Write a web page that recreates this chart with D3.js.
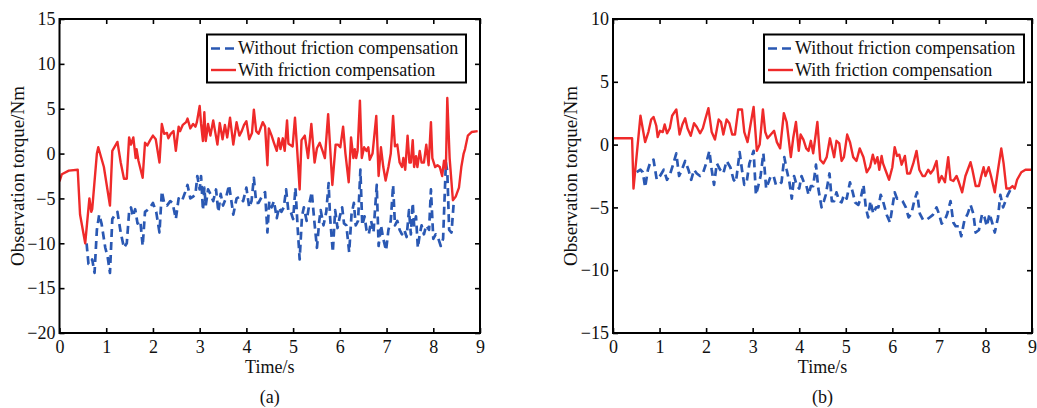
<!DOCTYPE html>
<html>
<head>
<meta charset="utf-8">
<script src="https://cdn.jsdelivr.net/npm/d3@7"></script>
<style>
  html, body { margin: 0; padding: 0; background: #fff; }
  svg { display: block; }
  text { font-family: "Liberation Serif", "Times New Roman", serif; fill: #111; }
</style>
</head>
<body>
<svg id="chart" width="1037" height="408"></svg>
<script>
// ---- data: observed torque (Nm) vs time (s), as [time, torque] pairs ----

// panel (a)
const withCompA = [
  [0,-3.1],[0.05,-2.3],[0.2,-1.9],[0.39,-1.8],[0.44,-6.8],[0.55,-10],[0.64,-5],[0.68,-6.5],[0.7,-6.2],
  [0.8,0],[0.83,0.7],[0.95,-1.5],[1.08,-5.8],[1.13,0.3],[1.24,1.3],[1.31,-1],[1.38,-2.8],[1.44,-2.8],
  [1.49,1.8],[1.53,1.0],[1.58,1.8],[1.63,-0.5],[1.65,0.5],[1.69,-0.8],[1.78,-2.7],[1.83,1.2],[1.88,0.9],
  [1.94,1.5],[2.0,2.0],[2.06,1.6],[2.14,-1.0],[2.19,3.3],[2.24,2.2],[2.3,2.3],[2.33,1.7],[2.38,2.2],
  [2.44,2.5],[2.49,0.3],[2.55,3.0],[2.58,2.5],[2.64,3.2],[2.71,3.5],[2.74,3.9],[2.8,2.8],[2.86,3.3],
  [2.91,3.0],[2.94,3.5],[3.0,5.3],[3.03,3.3],[3.07,1.4],[3.1,4.6],[3.13,1.4],[3.18,3.3],[3.23,2.0],
  [3.29,3.7],[3.38,1.0],[3.43,3.4],[3.49,1.6],[3.54,3.2],[3.59,1.8],[3.65,4.0],[3.72,1.0],[3.79,3.5],
  [3.85,2.0],[3.9,2.5],[3.95,3.2],[4.0,3.6],[4.06,1.6],[4.12,2.3],[4.16,4.9],[4.21,2.5],[4.26,2.2],
  [4.35,3.5],[4.4,3.0],[4.45,-1.3],[4.48,2.8],[4.54,2.0],[4.59,1.2],[4.65,0.3],[4.69,1.7],[4.73,0.5],
  [4.78,1.7],[4.82,0.3],[4.87,3.7],[4.9,1.1],[4.99,0.8],[5.04,4.0],[5.08,1.0],[5.14,-4.0],[5.18,1.5],
  [5.25,2.0],[5.32,-0.5],[5.39,3.3],[5.46,-1.0],[5.51,0.6],[5.57,1.2],[5.63,0.3],[5.68,-0.5],[5.75,4.4],
  [5.84,-3.5],[5.91,1.0],[5.96,1.0],[6.01,0.7],[6.07,3.0],[6.12,0.0],[6.19,-3.2],[6.24,1.8],[6.29,-0.5],
  [6.32,0.5],[6.35,-0.5],[6.38,0.3],[6.43,5.9],[6.47,-0.5],[6.52,0.7],[6.57,0.3],[6.61,0.7],[6.64,-0.7],
  [6.7,0.0],[6.78,4.2],[6.83,-2.5],[6.88,0.7],[6.93,-1.5],[6.98,-3.0],[7.04,-1.5],[7.09,0.0],[7.14,4.2],
  [7.18,0.8],[7.23,1.0],[7.28,-1.0],[7.33,-1.5],[7.36,-0.5],[7.4,-1.8],[7.45,2.0],[7.49,-1.0],[7.52,-1.0],
  [7.56,1.5],[7.59,-1.5],[7.63,-0.3],[7.66,-1.5],[7.71,0.3],[7.75,-1.0],[7.8,-1.0],[7.85,1.0],[7.9,-1.3],
  [7.95,3.5],[7.98,-0.5],[8.04,-1.5],[8.09,-1.3],[8.14,-1.5],[8.19,-2.5],[8.23,-0.8],[8.27,-1.7],[8.3,6.2],
  [8.35,-0.5],[8.42,-5.2],[8.48,-4.8],[8.55,-3.8],[8.6,-1.5],[8.65,0],[8.68,0.5],[8.74,2.0],[8.82,2.4],[8.95,2.5]
];
const withoutCompA = [
  [0.58,-10],[0.62,-12.3],[0.66,-12.3],[0.7,-11.8],[0.75,-13.3],[0.8,-8.5],[0.85,-6.8],[0.9,-7.8],[0.98,-10.5],
  [1.03,-11.5],[1.08,-13.3],[1.13,-7.3],[1.19,-6.8],[1.24,-6.5],[1.31,-8.8],[1.38,-10.5],[1.44,-10.0],[1.49,-6.5],
  [1.53,-6.0],[1.57,-7.0],[1.62,-6.2],[1.67,-7.8],[1.73,-7.5],[1.78,-10.3],[1.83,-6.5],[1.88,-6.3],[1.94,-6.0],
  [2.0,-5.5],[2.07,-6.5],[2.14,-8.8],[2.19,-4.2],[2.24,-5.5],[2.3,-5.8],[2.37,-5.3],[2.42,-5.5],[2.49,-7.3],
  [2.55,-5.0],[2.62,-5.3],[2.69,-4.3],[2.74,-3.5],[2.8,-5.0],[2.86,-4.8],[2.91,-4.5],[2.95,-2.5],[3.0,-4.0],
  [3.03,-2.5],[3.07,-6.3],[3.1,-3.8],[3.13,-5.8],[3.18,-4.0],[3.23,-4.5],[3.29,-5.3],[3.35,-4.0],[3.4,-6.5],
  [3.45,-4.5],[3.5,-5.8],[3.56,-5.0],[3.63,-3.5],[3.72,-6.8],[3.79,-5.0],[3.86,-4.8],[3.93,-5.3],[4.0,-3.8],
  [4.06,-6.0],[4.11,-5.3],[4.16,-2.7],[4.21,-5.5],[4.26,-5.5],[4.33,-4.8],[4.4,-4.3],[4.45,-8.8],[4.49,-5.3],
  [4.54,-6.0],[4.59,-5.3],[4.65,-7.2],[4.7,-6.0],[4.75,-6.5],[4.8,-6.0],[4.85,-4.0],[4.9,-6.5],[4.95,-6.5],
  [5.0,-7.3],[5.05,-3.8],[5.1,-8.5],[5.14,-11.8],[5.19,-7.0],[5.23,-6.0],[5.29,-7.5],[5.35,-5.5],[5.4,-4.3],
  [5.45,-7.3],[5.51,-10.5],[5.56,-7.5],[5.59,-6.3],[5.65,-8.0],[5.71,-6.5],[5.76,-3.3],[5.79,-7.0],[5.85,-11.0],
  [5.9,-6.3],[5.95,-8.3],[6.0,-7.0],[6.05,-6.0],[6.09,-7.8],[6.14,-8.0],[6.2,-11.0],[6.25,-6.8],[6.3,-5.5],
  [6.34,-8.0],[6.39,-7.5],[6.44,-1.8],[6.48,-8.0],[6.53,-7.0],[6.57,-8.5],[6.62,-9.0],[6.67,-7.5],[6.72,-8.8],
  [6.79,-3.5],[6.83,-10.3],[6.88,-8.0],[6.93,-9.5],[6.99,-10.8],[7.04,-8.5],[7.09,-7.5],[7.14,-3.5],[7.18,-8.0],
  [7.23,-7.5],[7.28,-8.5],[7.33,-9.0],[7.38,-8.5],[7.43,-9.3],[7.48,-6.3],[7.52,-9.0],[7.56,-5.5],[7.59,-8.0],
  [7.63,-7.0],[7.67,-10.5],[7.71,-9.0],[7.75,-8.0],[7.8,-9.0],[7.85,-8.0],[7.91,-8.5],[7.95,-4.0],[8.0,-9.5],
  [8.05,-9.0],[8.11,-9.5],[8.16,-10.3],[8.21,-9.5],[8.27,-1.0],[8.3,-2.0],[8.34,-8.5],[8.39,-8.8],[8.44,-5.3]
];

// panel (b)
const withCompB = [
  [0,0.5],[0.41,0.5],[0.44,-3.5],[0.59,2.3],[0.69,0.2],[0.76,1.0],[0.82,2.0],[0.87,2.2],[0.93,1.5],[0.96,0.6],
  [1.01,1.1],[1.07,1.0],[1.11,1.6],[1.16,0.9],[1.22,1.3],[1.27,2.3],[1.36,2.8],[1.43,0.8],[1.49,1.6],[1.55,2.1],
  [1.6,1.3],[1.67,0.7],[1.74,1.7],[1.8,1.4],[1.87,0.9],[1.93,1.3],[1.98,2.0],[2.05,2.9],[2.12,1.0],[2.19,0.4],
  [2.27,2.0],[2.32,1.8],[2.37,0.8],[2.44,2.0],[2.5,1.7],[2.56,0.8],[2.62,0.8],[2.69,2.8],[2.77,2.8],[2.82,1.0],
  [2.89,0.2],[2.95,1.5],[3.02,3.0],[3.09,-0.5],[3.15,0.0],[3.22,2.8],[3.27,1.0],[3.32,0.5],[3.39,0.8],[3.46,1.1],
  [3.52,0.2],[3.59,-0.3],[3.67,2.5],[3.73,1.8],[3.82,-1.0],[3.87,0.5],[3.93,1.8],[3.99,-0.5],[4.03,0.8],[4.09,0.4],
  [4.15,-0.3],[4.2,-0.5],[4.25,0.3],[4.3,-0.7],[4.39,1.8],[4.45,-1.2],[4.52,-1.5],[4.59,-1.0],[4.66,0.5],[4.75,-1.0],
  [4.8,0.3],[4.86,0.1],[4.91,-1.3],[4.96,-1.0],[5.03,0.8],[5.09,0.2],[5.16,-1.0],[5.23,-1.3],[5.3,-0.3],[5.38,-1.0],
  [5.45,-2.2],[5.52,-1.8],[5.58,-0.8],[5.63,-1.5],[5.68,-1.0],[5.72,-2.0],[5.77,-0.9],[5.8,-1.5],[5.85,-2.0],[5.93,-2.8],
  [6.0,-1.8],[6.05,-0.2],[6.1,-0.9],[6.15,-0.8],[6.2,-1.6],[6.27,-0.9],[6.32,-2.3],[6.38,-2.3],[6.45,-1.5],[6.52,-0.5],
  [6.58,-2.0],[6.65,-2.5],[6.7,-2.5],[6.77,-2.0],[6.82,-2.3],[6.88,-2.0],[6.95,-1.3],[7.0,-3.0],[7.06,-2.5],[7.13,-3.0],
  [7.2,-1.0],[7.25,-2.8],[7.31,-2.9],[7.38,-2.5],[7.43,-3.0],[7.5,-3.8],[7.57,-2.5],[7.62,-2.0],[7.68,-1.4],[7.72,-2.0],
  [7.79,-3.3],[7.86,-3.3],[7.91,-2.5],[7.96,-1.8],[8.0,-2.5],[8.07,-1.8],[8.12,-2.5],[8.2,-3.8],[8.27,-2.0],[8.34,-0.3],
  [8.39,-1.5],[8.45,-3.5],[8.52,-3.5],[8.58,-3.3],[8.63,-3.5],[8.68,-2.8],[8.77,-2.2],[8.86,-2.0],[9.0,-2.0]
];
const withoutCompB = [
  [0.51,-2.2],[0.59,-2.0],[0.64,-2.2],[0.69,-3.4],[0.75,-2.0],[0.81,-1.3],[0.87,-1.2],[0.94,-2.8],[1.01,-2.5],
  [1.09,-2.0],[1.16,-2.8],[1.23,-2.3],[1.29,-1.6],[1.36,-0.7],[1.42,-2.5],[1.48,-2.0],[1.55,-1.3],[1.62,-2.0],
  [1.68,-2.8],[1.74,-2.0],[1.8,-2.3],[1.87,-2.5],[1.93,-2.3],[2.0,-1.5],[2.07,-0.5],[2.12,-2.0],[2.17,-3.2],
  [2.23,-1.5],[2.3,-2.0],[2.37,-2.3],[2.44,-1.3],[2.52,-1.8],[2.59,-2.8],[2.64,-3.0],[2.72,-0.6],[2.77,-2.0],
  [2.82,-3.2],[2.87,-3.0],[2.93,-1.5],[3.02,-0.5],[3.07,-4.0],[3.12,-3.3],[3.17,-2.5],[3.23,-0.7],[3.29,-3.5],
  [3.34,-3.0],[3.39,-2.5],[3.45,-2.5],[3.5,-3.2],[3.57,-3.2],[3.62,-3.0],[3.68,-1.0],[3.73,-2.0],[3.79,-3.0],
  [3.84,-4.3],[3.89,-2.5],[3.95,-3.3],[4.0,-3.5],[4.05,-2.5],[4.1,-3.0],[4.15,-3.2],[4.2,-4.0],[4.25,-3.3],
  [4.3,-3.3],[4.36,-1.6],[4.41,-3.5],[4.48,-5.0],[4.53,-4.5],[4.57,-4.0],[4.65,-2.3],[4.7,-4.5],[4.75,-4.5],
  [4.8,-3.8],[4.86,-4.5],[4.91,-4.6],[4.96,-4.0],[5.02,-4.3],[5.09,-3.0],[5.15,-3.8],[5.2,-4.6],[5.27,-4.8],
  [5.32,-4.3],[5.38,-3.2],[5.43,-5.0],[5.48,-5.8],[5.53,-4.5],[5.59,-5.5],[5.65,-5.0],[5.7,-5.0],[5.75,-4.0],
  [5.8,-4.5],[5.88,-5.6],[5.95,-6.2],[6.0,-5.0],[6.05,-3.8],[6.1,-4.3],[6.16,-4.3],[6.22,-4.5],[6.29,-5.0],
  [6.35,-5.8],[6.41,-5.5],[6.47,-4.5],[6.53,-3.8],[6.59,-5.5],[6.66,-6.0],[6.73,-6.0],[6.8,-5.8],[6.87,-5.6],
  [6.95,-5.0],[7.0,-5.5],[7.06,-6.3],[7.13,-6.0],[7.18,-5.5],[7.25,-4.5],[7.31,-6.2],[7.36,-6.5],[7.43,-6.5],
  [7.48,-7.3],[7.55,-6.0],[7.62,-5.5],[7.68,-4.8],[7.74,-5.5],[7.79,-7.0],[7.86,-6.8],[7.93,-5.5],[7.98,-5.8],
  [8.03,-6.5],[8.09,-5.5],[8.15,-6.3],[8.2,-7.0],[8.27,-5.8],[8.32,-4.0],[8.38,-5.0],[8.43,-4.5],[8.48,-4.0],[8.55,-3.5]
];

// axis ranges and tick values
const timeDomain = [0, 9];
const timeTicks = [0, 1, 2, 3, 4, 5, 6, 7, 8, 9];
const torqueDomainA = [-20, 15];
const torqueTicksA = [-20, -15, -10, -5, 0, 5, 10, 15];
const torqueDomainB = [-15, 10];
const torqueTicksB = [-15, -10, -5, 0, 5, 10];

const legendLabels = ["Without friction compensation", "With friction compensation"];
const panelCaptions = ["(a)", "(b)"];
const xTitle = "Time/s";
const yTitle = "Observation torque/Nm";

// ---- styling ----
const RED = "#ef2a2a";
const BLUE = "#2a58b3";
const FONT = 18;

const svg = d3.select("#chart");

function drawPanel(cfg) {
  const { left, right, top, bottom } = cfg.box;
  const x = d3.scaleLinear().domain(timeDomain).range([left, right]);
  const y = d3.scaleLinear().domain(cfg.yDomain).range([bottom, top]);
  const g = svg.append("g");

  const clipId = "clip-" + cfg.id;
  g.append("clipPath").attr("id", clipId)
    .append("rect").attr("x", left).attr("y", top)
    .attr("width", right - left).attr("height", bottom - top);

  const line = d3.line().x(d => x(d[0])).y(d => y(d[1]));

  const data = g.append("g").attr("clip-path", `url(#${clipId})`);
  data.append("path").datum(cfg.withoutComp)
    .attr("d", line).attr("fill", "none")
    .attr("stroke", BLUE).attr("stroke-width", 2.7)
    .attr("stroke-dasharray", "8,5").attr("stroke-linejoin", "round");
  data.append("path").datum(cfg.withComp)
    .attr("d", line).attr("fill", "none")
    .attr("stroke", RED).attr("stroke-width", 2.4)
    .attr("stroke-linejoin", "round");

  // inward ticks on all four sides
  const tl = 5;
  const axisStyle = sel => {
    sel.select(".domain").remove();
    sel.selectAll(".tick line").attr("stroke", "#000").attr("stroke-width", 1.6);
    sel.selectAll(".tick text").style("font-family", "Liberation Serif").style("font-size", FONT + "px").attr("fill", "#111");
  };
  g.append("g").attr("transform", `translate(0,${bottom})`)
    .call(d3.axisBottom(x).tickValues(timeTicks).tickFormat(d3.format("d")).tickSizeInner(-tl).tickPadding(7.5))
    .call(axisStyle);
  g.append("g").attr("transform", `translate(0,${top})`)
    .call(d3.axisTop(x).tickValues(timeTicks).tickFormat("").tickSizeInner(-tl))
    .call(axisStyle);
  g.append("g").attr("transform", `translate(${left},0)`)
    .call(d3.axisLeft(y).tickValues(cfg.yTicks).tickFormat(d3.format("d")).tickSizeInner(-tl).tickPadding(4))
    .call(axisStyle);
  g.append("g").attr("transform", `translate(${right},0)`)
    .call(d3.axisRight(y).tickValues(cfg.yTicks).tickFormat("").tickSizeInner(-tl))
    .call(axisStyle);

  // frame
  g.append("rect").attr("x", left).attr("y", top)
    .attr("width", right - left).attr("height", bottom - top)
    .attr("fill", "none").attr("stroke", "#000").attr("stroke-width", 2);

  // axis titles and caption
  g.append("text").attr("x", (left + right) / 2).attr("y", bottom + 40)
    .attr("text-anchor", "middle").style("font-size", FONT + "px").text(xTitle);
  g.append("text").attr("x", (left + right) / 2).attr("y", bottom + 70)
    .attr("text-anchor", "middle").style("font-size", FONT + "px").text(cfg.caption);
  g.append("text")
    .attr("transform", `translate(${cfg.yTitleX},${(top + bottom) / 2}) rotate(-90)`)
    .attr("text-anchor", "middle").style("font-size", "19px").text(yTitle);

  // legend
  const lg = cfg.legend;
  g.append("rect").attr("x", lg.x).attr("y", lg.y).attr("width", lg.w).attr("height", lg.h)
    .attr("fill", "#fff").attr("stroke", "#000").attr("stroke-width", 2);
  const rows = [
    { label: legendLabels[0], color: BLUE, dash: "9,5", width: 2.7 },
    { label: legendLabels[1], color: RED, dash: null, width: 2.4 }
  ];
  rows.forEach((r, i) => {
    const cy = lg.y + 14 + i * 21.5;
    g.append("line").attr("x1", lg.x + 4).attr("x2", lg.x + 29)
      .attr("y1", cy).attr("y2", cy)
      .attr("stroke", r.color).attr("stroke-width", r.width)
      .attr("stroke-dasharray", r.dash);
    g.append("text").attr("x", lg.x + 31).attr("y", cy + 5.5)
      .style("font-size", FONT + "px").text(r.label);
  });
}

drawPanel({
  id: "a",
  box: { left: 59.5, right: 480, top: 19, bottom: 333 },
  yDomain: torqueDomainA, yTicks: torqueTicksA,
  withComp: withCompA, withoutComp: withoutCompA,
  caption: panelCaptions[0], yTitleX: 24,
  legend: { x: 207, y: 34.5, w: 259, h: 48 }
});
drawPanel({
  id: "b",
  box: { left: 613, right: 1032, top: 19, bottom: 333 },
  yDomain: torqueDomainB, yTicks: torqueTicksB,
  withComp: withCompB, withoutComp: withoutCompB,
  caption: panelCaptions[1], yTitleX: 577,
  legend: { x: 764, y: 34.5, w: 260, h: 48 }
});
</script>
</body>
</html>
